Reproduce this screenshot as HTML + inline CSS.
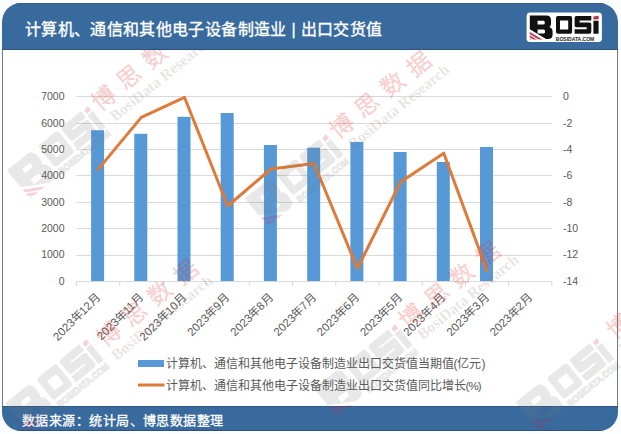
<!DOCTYPE html>
<html lang="zh-CN"><head><meta charset="utf-8">
<style>
html,body{margin:0;padding:0;background:#fcfdfe;}
body{width:621px;height:434px;position:relative;overflow:hidden;font-family:"Liberation Sans",sans-serif;}
#frame{position:absolute;left:2px;top:3px;width:616px;height:428px;border-radius:19px;overflow:hidden;background:#fff;}
#bl{position:absolute;left:0;top:46px;width:1px;height:358px;background:#6f7b7c;}
#br{position:absolute;right:0;top:46px;width:1px;height:358px;background:#6f7b7c;}
#hdr{z-index:10;position:absolute;left:0;top:0;width:616px;height:45px;background:#396a9d;border-top:1px solid #3a5f85;border-bottom:1px solid #2d5078;}
#hdr .t{position:absolute;left:23px;top:11.5px;color:#fff;font-size:16px;font-weight:500;-webkit-text-stroke:0.35px #fff;white-space:nowrap;letter-spacing:0.35px;}
#ftr{position:absolute;left:0;top:403px;width:616px;height:23px;background:#396a9d;border-top:1px solid #30557e;border-bottom:1px solid #2d5078;}
#ftr .t{position:absolute;left:20px;top:2.5px;color:#fff;font-size:13px;font-weight:500;-webkit-text-stroke:0.3px #fff;white-space:nowrap;letter-spacing:0.45px;}
svg{position:absolute;left:0;top:0;}
</style></head>
<body>
<div id="frame">
  <div id="bl"></div><div id="br"></div>
  <div id="hdr"><div class="t">计算机、通信和其他电子设备制造业 | 出口交货值</div>
    
  </div>
  <div id="ftr"><div class="t">数据来源：统计局、博思数据整理</div></div>
<svg id="lg" width="621" height="60" viewBox="0 0 621 60" style="position:absolute;left:-2px;top:-3px;z-index:11">
  <defs><clipPath id="bclip"><path d="M529.6,30.4 L544.5,39.4 L529.6,39.4 Z"/></clipPath></defs>
  <rect x="526.6" y="12.6" width="75.3" height="29.4" rx="3.5" fill="#fff"/>
  <path d="M529.8,15.5 H546.5 Q551,15.5 551,20 V23.5 Q551,26.3 549.3,27 Q552.6,28 552.6,31.5 V34.5 Q552.6,39 548,39 H546 L529.8,29.3 Z M537.6,20.8 V24.6 H543.6 Q544.8,24.6 544.8,22.7 Q544.8,20.8 543.6,20.8 Z M537.6,29.4 V33.4 H543.8 Q545.1,33.4 545.1,31.4 Q545.1,29.4 543.8,29.4 Z" fill="#111" fill-rule="evenodd"/>
  <g clip-path="url(#bclip)" stroke="#c43a50" stroke-width="1.9">
    <line x1="520" y1="27.2" x2="552" y2="46.4"/>
    <line x1="520" y1="30.6" x2="552" y2="49.8"/>
    <line x1="520" y1="34" x2="552" y2="53.2"/>
  </g>
  <path d="M556,17.8 Q556,16 557.8,16 H570.3 Q572.1,16 572.1,17.8 V31.9 Q572.1,33.7 570.3,33.7 H557.8 Q556,33.7 556,31.9 Z M560,20.6 V29.4 H568.2 V20.6 Z" fill="#111" fill-rule="evenodd"/>
  <path d="M576.2,16 H591.3 V20.6 H579.6 V22.5 H589.6 Q591.3,22.5 591.3,24.3 V32 Q591.3,33.7 589.6,33.7 H574.6 V29.3 H586.7 V27.2 H576.2 Q574.6,27.2 574.6,25.5 V17.8 Q574.6,16 576.2,16 Z" fill="#111"/>
  <path d="M593.4,16.6 L598.6,15.7 L598.6,19.3 L593.4,19.6 Z" fill="#b83048"/>
  <rect x="593.4" y="20.7" width="5.2" height="13" fill="#111"/>
  <text x="555.8" y="40.5" font-family="Liberation Sans, sans-serif" font-weight="bold" font-size="6" fill="#1a1a1a" textLength="38.5" lengthAdjust="spacingAndGlyphs">BOSIDATA.COM</text>
</svg>
</div>
<svg width="621" height="434" viewBox="0 0 621 434" font-family="Liberation Sans, sans-serif">
<g stroke="#d9d9d9" stroke-width="1">
<line x1="76.5" y1="96.5" x2="551.8" y2="96.5"/>
<line x1="76.5" y1="123.5" x2="551.8" y2="123.5"/>
<line x1="76.5" y1="149.5" x2="551.8" y2="149.5"/>
<line x1="76.5" y1="175.5" x2="551.8" y2="175.5"/>
<line x1="76.5" y1="202.5" x2="551.8" y2="202.5"/>
<line x1="76.5" y1="228.5" x2="551.8" y2="228.5"/>
<line x1="76.5" y1="255.5" x2="551.8" y2="255.5"/>
</g>
<g fill="#5699d6">
<rect x="91.1" y="130.2" width="13" height="151.3"/>
<rect x="134.3" y="133.8" width="13" height="147.7"/>
<rect x="177.5" y="116.8" width="13" height="164.7"/>
<rect x="220.7" y="113.0" width="13" height="168.5"/>
<rect x="263.9" y="145.0" width="13" height="136.5"/>
<rect x="307.2" y="147.7" width="13" height="133.8"/>
<rect x="350.4" y="142.0" width="13" height="139.5"/>
<rect x="393.6" y="152.0" width="13" height="129.5"/>
<rect x="436.8" y="162.0" width="13" height="119.5"/>
<rect x="480.0" y="147.0" width="13" height="134.5"/>
</g>
<g stroke="#d9d9d9" stroke-width="1">
<line x1="76.5" y1="281.5" x2="551.8" y2="281.5"/>
<line x1="76.5" y1="281" x2="76.5" y2="286"/>
<line x1="119.7" y1="281" x2="119.7" y2="286"/>
<line x1="162.9" y1="281" x2="162.9" y2="286"/>
<line x1="206.1" y1="281" x2="206.1" y2="286"/>
<line x1="249.3" y1="281" x2="249.3" y2="286"/>
<line x1="292.5" y1="281" x2="292.5" y2="286"/>
<line x1="335.8" y1="281" x2="335.8" y2="286"/>
<line x1="379.0" y1="281" x2="379.0" y2="286"/>
<line x1="422.2" y1="281" x2="422.2" y2="286"/>
<line x1="465.4" y1="281" x2="465.4" y2="286"/>
<line x1="508.6" y1="281" x2="508.6" y2="286"/>
<line x1="551.8" y1="281" x2="551.8" y2="286"/>
</g>
<polyline fill="none" stroke="#dd7b3a" stroke-width="3" stroke-linejoin="round" stroke-linecap="round" points="98.1,169.4 141.3,117.4 184.5,97.3 227.7,206 270.9,169 314.1,163.5 357.4,268.5 400.6,182 443.8,153.2 487.0,270.8"/>
<g font-size="10.5" fill="#595959" text-anchor="end">
<text x="64.5" y="100">7000</text>
<text x="64.5" y="127">6000</text>
<text x="64.5" y="153">5000</text>
<text x="64.5" y="179">4000</text>
<text x="64.5" y="206">3000</text>
<text x="64.5" y="232">2000</text>
<text x="64.5" y="258">1000</text>
<text x="64.5" y="285">0</text>
</g>
<g font-size="10.5" fill="#595959">
<text x="563" y="100">0</text>
<text x="563" y="127">-2</text>
<text x="563" y="153">-4</text>
<text x="563" y="179">-6</text>
<text x="563" y="206">-8</text>
<text x="563" y="232">-10</text>
<text x="563" y="258">-12</text>
<text x="563" y="285">-14</text>
</g>
<g font-size="11.5" fill="#595959" text-anchor="end">
<text x="100.5" y="298.7" transform="rotate(-45 100.5 298.7)">2023年12月</text>
<text x="143.7" y="298.7" transform="rotate(-45 143.7 298.7)">2023年11月</text>
<text x="186.9" y="298.7" transform="rotate(-45 186.9 298.7)">2023年10月</text>
<text x="230.1" y="298.7" transform="rotate(-45 230.1 298.7)">2023年9月</text>
<text x="273.3" y="298.7" transform="rotate(-45 273.3 298.7)">2023年8月</text>
<text x="316.5" y="298.7" transform="rotate(-45 316.5 298.7)">2023年7月</text>
<text x="359.8" y="298.7" transform="rotate(-45 359.8 298.7)">2023年6月</text>
<text x="403.0" y="298.7" transform="rotate(-45 403.0 298.7)">2023年5月</text>
<text x="446.2" y="298.7" transform="rotate(-45 446.2 298.7)">2023年4月</text>
<text x="489.4" y="298.7" transform="rotate(-45 489.4 298.7)">2023年3月</text>
<text x="532.6" y="298.7" transform="rotate(-45 532.6 298.7)">2023年2月</text>
</g>
<rect x="138" y="360" width="26" height="7" fill="#5699d6"/>
<line x1="138" y1="385" x2="164.5" y2="385" stroke="#dd7b3a" stroke-width="3"/>
<g font-size="12" fill="#595959">
<text x="165.5" y="367.5">计算机、通信和其他电子设备制造业出口交货值当期值(亿元)</text>
<text x="165.5" y="389.5">计算机、通信和其他电子设备制造业出口交货值同比增长<tspan letter-spacing="-0.9" font-size="11.5">(%)</tspan></text>
</g>
</svg>
<svg id="wm" width="621" height="434" viewBox="0 0 621 434" style="position:absolute;left:0;top:0;z-index:5"><defs><g id="wml">
  <g fill="#777" stroke="#777" stroke-width="0.7" stroke-linejoin="round" opacity="0.16">
  <path d="M529.8,15.5 H546.5 Q551,15.5 551,20 V23.5 Q551,26.3 549.3,27 Q552.6,28 552.6,31.5 V34.5 Q552.6,39 548,39 H546 L529.8,29.3 Z M537.4,20.6 V24.8 H543.8 Q545,24.8 545,22.7 Q545,20.6 543.8,20.6 Z M537.4,29.6 V34.1 H544 Q545.3,34.1 545.3,31.85 Q545.3,29.6 544,29.6 Z" fill-rule="evenodd"/>
  <path d="M556,17.8 Q556,16 557.8,16 H570.3 Q572.1,16 572.1,17.8 V31.9 Q572.1,33.7 570.3,33.7 H557.8 Q556,33.7 556,31.9 Z M560,20.9 V29.7 H568.5 V20.9 Z" fill-rule="evenodd"/>
  <path d="M577,16 H592.3 V20.6 H580.2 V22.5 H590.5 Q592.3,22.5 592.3,24.3 V32 Q592.3,33.7 590.5,33.7 H575.3 V29.3 H587.5 V27.3 H577 Q575.3,27.3 575.3,25.5 V17.8 Q575.3,16 577,16 Z"/>
  <rect x="594.7" y="20.9" width="3.8" height="12.8"/>
  <text x="556" y="40.6" font-family="Liberation Sans, sans-serif" font-weight="bold" font-size="6.2" textLength="42.7" lengthAdjust="spacingAndGlyphs">BOSIDATA.COM</text>
  </g>
  <g fill="#d02040" opacity="0.2">
  <path d="M594.7,16.6 L598.3,15.8 L598.3,19.2 L594.7,19.4 Z"/>
  <g clip-path="url(#bclip)" stroke="#d02040" stroke-width="1.9" fill="none">
    <line x1="520" y1="27.2" x2="552" y2="46.4"/>
    <line x1="520" y1="30.6" x2="552" y2="49.8"/>
    <line x1="520" y1="34" x2="552" y2="53.2"/>
  </g>
  </g>
</g></defs><g transform="translate(59.5 152.5) rotate(-39)"><use href="#wml" transform="scale(1.5) translate(-564.2 -28)"/><text x="56.95" y="-6.2299999999999995" font-size="23.5" letter-spacing="10" fill="#e02828" fill-opacity="0.21" stroke="#e02828" stroke-opacity="0.21" stroke-width="0.4">博思数据</text><text x="62.5" y="11.4" font-family="Liberation Serif, serif" font-size="15.5" font-weight="bold" fill="#907070" fill-opacity="0.2">BosiData Research</text></g><g transform="translate(297.5 180.5) rotate(-39)"><use href="#wml" transform="scale(1.5) translate(-564.2 -28)"/><text x="56.95" y="-6.2299999999999995" font-size="23.5" letter-spacing="10" fill="#e02828" fill-opacity="0.21" stroke="#e02828" stroke-opacity="0.21" stroke-width="0.4">博思数据</text><text x="62.5" y="11.4" font-family="Liberation Serif, serif" font-size="15.5" font-weight="bold" fill="#907070" fill-opacity="0.2">BosiData Research</text></g><g transform="translate(57.8 385.5) rotate(-39)"><use href="#wml" transform="scale(1.5) translate(-564.2 -28)"/><text x="59.95" y="0.7700000000000001" font-size="23.5" letter-spacing="10" fill="#e02828" fill-opacity="0.21" stroke="#e02828" stroke-opacity="0.21" stroke-width="0.4">博思数据</text><text x="61.0" y="17.9" font-family="Liberation Serif, serif" font-size="15.5" font-weight="bold" fill="#907070" fill-opacity="0.2">BosiData Research</text></g><g transform="translate(366.7 370.7) rotate(-39)"><use href="#wml" transform="scale(1.5) translate(-564.2 -28)"/><text x="56.95" y="-6.2299999999999995" font-size="23.5" letter-spacing="10" fill="#e02828" fill-opacity="0.21" stroke="#e02828" stroke-opacity="0.21" stroke-width="0.4">博思数据</text><text x="62.5" y="11.4" font-family="Liberation Serif, serif" font-size="15.5" font-weight="bold" fill="#907070" fill-opacity="0.2">BosiData Research</text></g><g transform="translate(568.2 384.5) rotate(-39)"><use href="#wml" transform="scale(1.5) translate(-564.2 -28)"/><text x="64.95" y="-5.2299999999999995" font-size="23.5" letter-spacing="10" fill="#e02828" fill-opacity="0.21" stroke="#e02828" stroke-opacity="0.21" stroke-width="0.4">博思数据</text><text x="62.5" y="11.4" font-family="Liberation Serif, serif" font-size="15.5" font-weight="bold" fill="#907070" fill-opacity="0.2">BosiData Research</text></g></svg>
</body></html>
